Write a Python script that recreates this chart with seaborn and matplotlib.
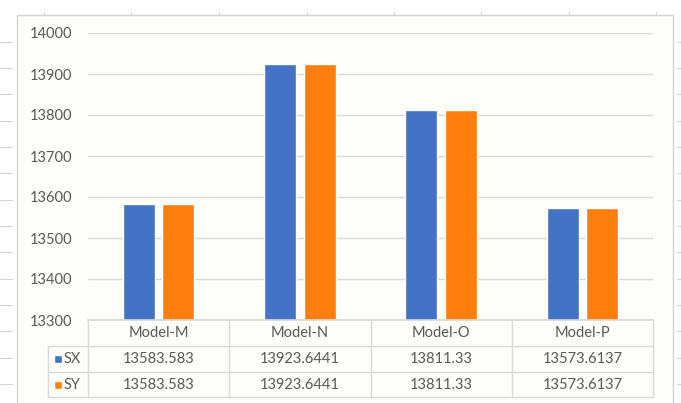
import pandas as pd
import seaborn as sns
from matplotlib import pyplot as plt
from matplotlib import transforms
from matplotlib.lines import Line2D
from matplotlib.patches import Rectangle

models = ['Model-M', 'Model-N', 'Model-O', 'Model-P']
series = ['SX', 'SY']
sx_values = [13583.583, 13923.6441, 13811.33, 13573.6137]
sy_values = [13583.583, 13923.6441, 13811.33, 13573.6137]
sx_labels = ['13583.583', '13923.6441', '13811.33', '13573.6137']
sy_labels = ['13583.583', '13923.6441', '13811.33', '13573.6137']
colors = ['#4472C4', '#FF7F0E']

df = pd.DataFrame({
    'model': models * 2,
    'series': ['SX'] * 4 + ['SY'] * 4,
    'value': sx_values + sy_values,
})

sns.set_theme(style='white')
plt.rcParams['font.family'] = ['Lato', 'DejaVu Sans']
text_color = '#595959'
line_color = '#D9D9D9'
fs = 10.5

W, H = 681, 403
fig = plt.figure(figsize=(W / 100, H / 100), dpi=100, facecolor='white')

# spreadsheet cell lines peeking out around the chart
for x in [44, 131, 219, 307, 394, 481, 569, 656]:
    fig.add_artist(Line2D([x / W, x / W], [1 - 12 / H, 1 - 17 / H], color='#D4D4D4', lw=0.8, zorder=-20))
for y in [42, 68, 94, 121, 147, 173, 200, 226, 252, 279, 305, 331, 358, 384]:
    fig.add_artist(Line2D([0, 12 / W], [1 - y / H, 1 - y / H], color='#D4D4D4', lw=0.8, zorder=-20))
    fig.add_artist(Line2D([677 / W, 1], [1 - y / H, 1 - y / H], color='#D4D4D4', lw=0.8, zorder=-20))

# chart area
fig.add_artist(Rectangle((17 / W, -0.05), (673 - 17) / W, 1 - 15 / H + 0.05,
                         transform=fig.transFigure, facecolor='#FDFDF9',
                         edgecolor='#D4D4D4', lw=1, zorder=-10))

ax = fig.add_axes([88 / W, (H - 320) / H, 565 / W, 287 / H])
ax.patch.set_alpha(0)

sns.barplot(data=df, x='model', y='value', hue='series', palette=colors,
            width=0.56, gap=0.19, saturation=1, ax=ax, legend=False)

ax.set_ylim(13300, 14000)
ax.set_yticks(range(13300, 14001, 100))
ax.yaxis.grid(True, color=line_color, lw=1)
ax.set_axisbelow(True)
ax.tick_params(axis='y', length=0, pad=11.5, labelsize=fs, labelcolor=text_color)
ax.set_xticks([])
ax.set_xlabel('')
ax.set_ylabel('')
for side in ['left', 'right', 'top']:
    ax.spines[side].set_visible(False)
ax.spines['bottom'].set_color(line_color)

# data table under the plot
trans = transforms.blended_transform_factory(ax.transData, ax.transAxes)
row_h = 26 / 287
left_col = -40 / 565
bottoms = [-row_h, -2 * row_h, -3 * row_h + 1 / 287]
for y in bottoms:
    ax.add_artist(Line2D([left_col, 1], [y, y], transform=ax.transAxes,
                         color=line_color, lw=1, clip_on=False))
for i in range(len(models) + 1):
    ax.add_artist(Line2D([i - 0.5, i - 0.5], [0, bottoms[-1]], transform=trans,
                         color=line_color, lw=1, clip_on=False))
ax.add_artist(Line2D([left_col, left_col], [-row_h, bottoms[-1]], transform=ax.transAxes,
                     color=line_color, lw=1, clip_on=False))

for i, m in enumerate(models):
    ax.text(i, -row_h / 2, m, transform=trans, ha='center', va='center',
            fontsize=fs, color=text_color)
    ax.text(i, -1.5 * row_h, sx_labels[i], transform=trans, ha='center', va='center',
            fontsize=fs, color=text_color)
    ax.text(i, -2.5 * row_h, sy_labels[i], transform=trans, ha='center', va='center',
            fontsize=fs, color=text_color)

for k, (name, c) in enumerate(zip(series, colors)):
    yc = -(1.5 + k) * row_h
    ax.add_patch(Rectangle((-34 / 565, yc - 4 / 287), 8 / 565, 8 / 287,
                           transform=ax.transAxes, facecolor=c, clip_on=False))
    ax.text(-24 / 565, yc, name, transform=ax.transAxes, ha='left', va='center',
            fontsize=fs, color=text_color)

fig.savefig('out.png', dpi=100, facecolor='white')
